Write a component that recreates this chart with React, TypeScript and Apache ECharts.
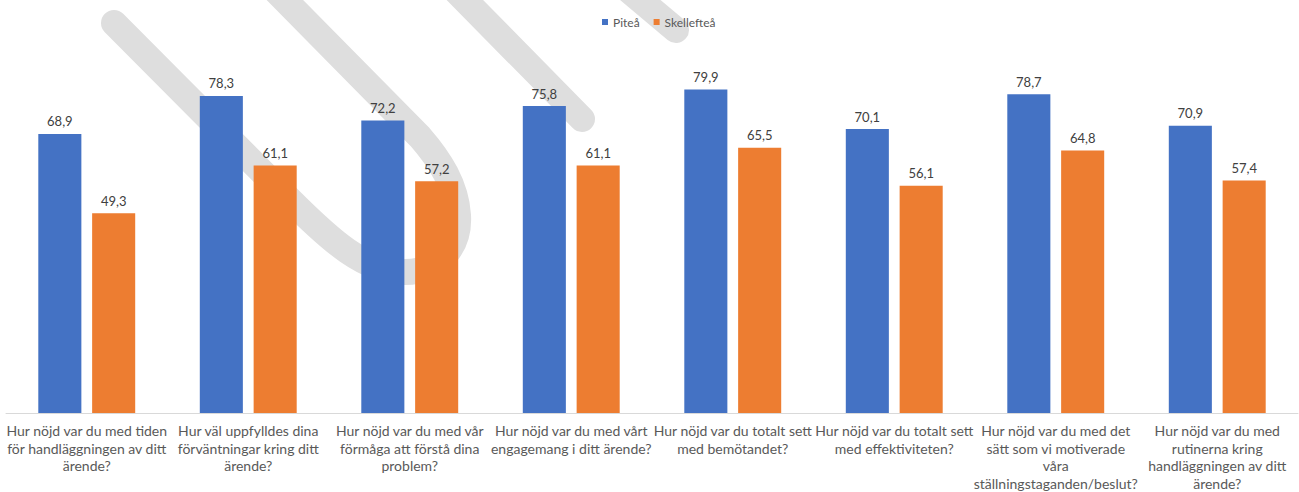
import React, { useEffect, useRef } from "react";
import * as echarts from "echarts";

const categories: string[] = [
  "Hur nöjd var du med tiden\nför handläggningen av ditt\närende?",
  "Hur väl uppfylldes dina\nförväntningar kring ditt\närende?",
  "Hur nöjd var du med vår\nförmåga att förstå dina\nproblem?",
  "Hur nöjd var du med vårt\nengagemang i ditt ärende?",
  "Hur nöjd var du totalt sett\nmed bemötandet?",
  "Hur nöjd var du totalt sett\nmed effektiviteten?",
  "Hur nöjd var du med det\nsätt som vi motiverade\nvåra\nställningstaganden/beslut?",
  "Hur nöjd var du med\nrutinerna kring\nhandläggningen av ditt\närende?",
];

const seriesNames: string[] = ["Piteå", "Skellefteå"];
const pitea: number[] = [68.9, 78.3, 72.2, 75.8, 79.9, 70.1, 78.7, 70.9];
const skelleftea: number[] = [49.3, 61.1, 57.2, 61.1, 65.5, 56.1, 64.8, 57.4];

const FONT = "Lato, 'Open Sans', sans-serif";

let registered = false;
function registerShapes() {
  if (registered) return;
  registered = true;
  echarts.graphic.registerShape(
    "swooshU",
    echarts.graphic.extendPath(
      "M114,23 L290,200 C330,240 365,272 405,272 C440,272 460,245 458,215 C456,185 440,160 420,137 L275,-10",
      {}
    )
  );
}

export default function App() {
  const ref = useRef<HTMLDivElement>(null);

  useEffect(() => {
    if (!ref.current) return;
    registerShapes();
    const chart = echarts.init(ref.current, undefined, { renderer: "svg" });
    const swooshStyle = {
      stroke: "#DEDEDE",
      lineWidth: 26,
      lineCap: "round" as const,
      lineJoin: "round" as const,
      fill: null as any,
    };
    const label = {
      show: true,
      position: "top" as const,
      distance: 6,
      fontFamily: FONT,
      fontSize: 13,
      color: "#404040",
      formatter: (p: any) => String(p.value).replace(".", ","),
    };
    chart.setOption({
      animation: false,
      backgroundColor: "#ffffff",
      graphic: [
        { type: "swooshU", z: 0, shape: {}, style: { ...swooshStyle } },
        {
          type: "line",
          z: 0,
          shape: { x1: 455, y1: -10, x2: 582, y2: 119 },
          style: { ...swooshStyle },
        },
        {
          type: "line",
          z: 0,
          shape: { x1: 626, y1: -12, x2: 676, y2: 30 },
          style: { ...swooshStyle },
        },
      ],
      legend: {
        data: seriesNames,
        left: 597,
        top: 11,
        icon: "rect",
        itemWidth: 6,
        itemHeight: 6,
        itemGap: 14,
        textStyle: { fontFamily: FONT, fontSize: 12, color: "#595959" },
      },
      grid: { left: 6, right: 1, top: 8, bottom: 75, containLabel: false },
      xAxis: {
        type: "category",
        data: categories,
        axisTick: { show: false },
        axisLine: { lineStyle: { color: "#D9D9D9", width: 1 } },
        axisLabel: {
          interval: 0,
          margin: 9,
          fontFamily: FONT,
          fontSize: 14,
          lineHeight: 17.5,
          color: "#595959",
          align: "center",
        },
      },
      yAxis: {
        type: "value",
        min: 0,
        max: 100,
        show: false,
        splitLine: { show: false },
      },
      series: [
        {
          name: seriesNames[0],
          type: "bar",
          data: pitea,
          itemStyle: { color: "#4472C4" },
          barGap: "25%",
          barCategoryGap: "40%",
          label,
        },
        {
          name: seriesNames[1],
          type: "bar",
          data: skelleftea,
          itemStyle: { color: "#ED7D31" },
          barGap: "25%",
          barCategoryGap: "40%",
          label,
        },
      ],
    });
    return () => chart.dispose();
  }, []);

  return (
    <div
      ref={ref}
      style={{ position: "fixed", left: 0, top: 0, width: 1299, height: 492 }}
    />
  );
}
